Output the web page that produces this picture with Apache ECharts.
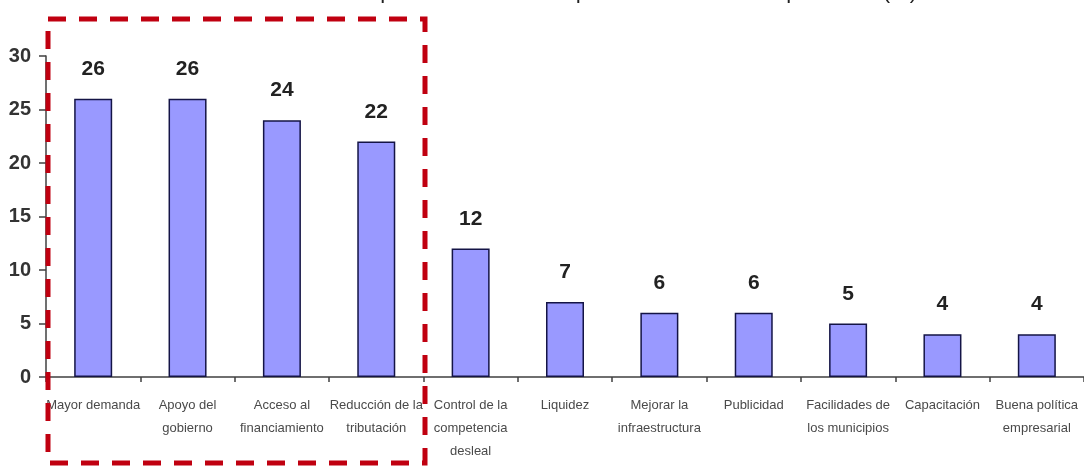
<!DOCTYPE html>
<html>
<head>
<meta charset="utf-8">
<script src="https://cdn.jsdelivr.net/npm/echarts@6/dist/echarts.min.js"></script>
<style>
html,body{margin:0;padding:0;background:#fff;}
#chart{width:1084px;height:467px;}
</style>
</head>
<body>
<div id="chart"></div>
<script>
const titleText = 'Gráfico N° 4: Principales necesidades que demandan los empresarios (%)';
const categories = [
  'Mayor demanda',
  'Apoyo del\ngobierno',
  'Acceso al\nfinanciamiento',
  'Reducción de la\ntributación',
  'Control de la\ncompetencia\ndesleal',
  'Liquidez',
  'Mejorar la\ninfraestructura',
  'Publicidad',
  'Facilidades de\nlos municipios',
  'Capacitación',
  'Buena política\nempresarial'
];
const values = [26, 26, 24, 22, 12, 7, 6, 6, 5, 4, 4];
const yTicks = [0, 5, 10, 15, 20, 25, 30];

const chart = echarts.init(document.getElementById('chart'), null, {renderer: 'canvas'});
const narrow = '"Liberation Sans Narrow", "Liberation Sans", Arial, sans-serif';

chart.setOption({
  animation: false,
  backgroundColor: '#ffffff',
  grid: {left: 46, top: 56, width: 1044, bottom: 90, containLabel: false},
  xAxis: {
    type: 'category',
    data: categories,
    axisLine: {show: true, lineStyle: {color: '#404040', width: 1.5}},
    axisTick: {show: true, length: 5, lineStyle: {color: '#404040', width: 1.5}},
    axisLabel: {
      interval: 0, color: '#4a4a4a', fontFamily: narrow, fontSize: 13,
      lineHeight: 23, margin: 17
    },
    splitLine: {show: false}
  },
  yAxis: {
    type: 'value',
    min: yTicks[0], max: yTicks[yTicks.length - 1], interval: 5,
    axisLine: {show: true, lineStyle: {color: '#404040', width: 1.5}},
    axisTick: {show: true, length: 7, lineStyle: {color: '#404040', width: 1.5}},
    axisLabel: {color: '#333', fontFamily: narrow, fontSize: 20, fontWeight: 'bold', margin: 15},
    splitLine: {show: false}
  },
  series: [{
    type: 'bar',
    data: values,
    barWidth: 38,
    itemStyle: {color: '#9999ff', borderColor: '#141446', borderWidth: 1.5},
    label: {
      show: true, position: 'top', distance: 19,
      color: '#222', fontFamily: narrow, fontSize: 21, fontWeight: 'bold'
    }
  }],
  graphic: [
    {
      type: 'text', x: 555, y: -8, silent: true,
      style: {text: titleText, fill: '#222', font: '22px "Liberation Sans", Arial, sans-serif',
              align: 'center', verticalAlign: 'middle'}
    },
    {
      type: 'rect', silent: true, z: 100,
      shape: {x: 48, y: 19, width: 377, height: 444},
      style: {fill: 'none', stroke: '#c00010', lineWidth: 5, lineDash: [18, 13]}
    }
  ]
});
</script>
</body>
</html>
